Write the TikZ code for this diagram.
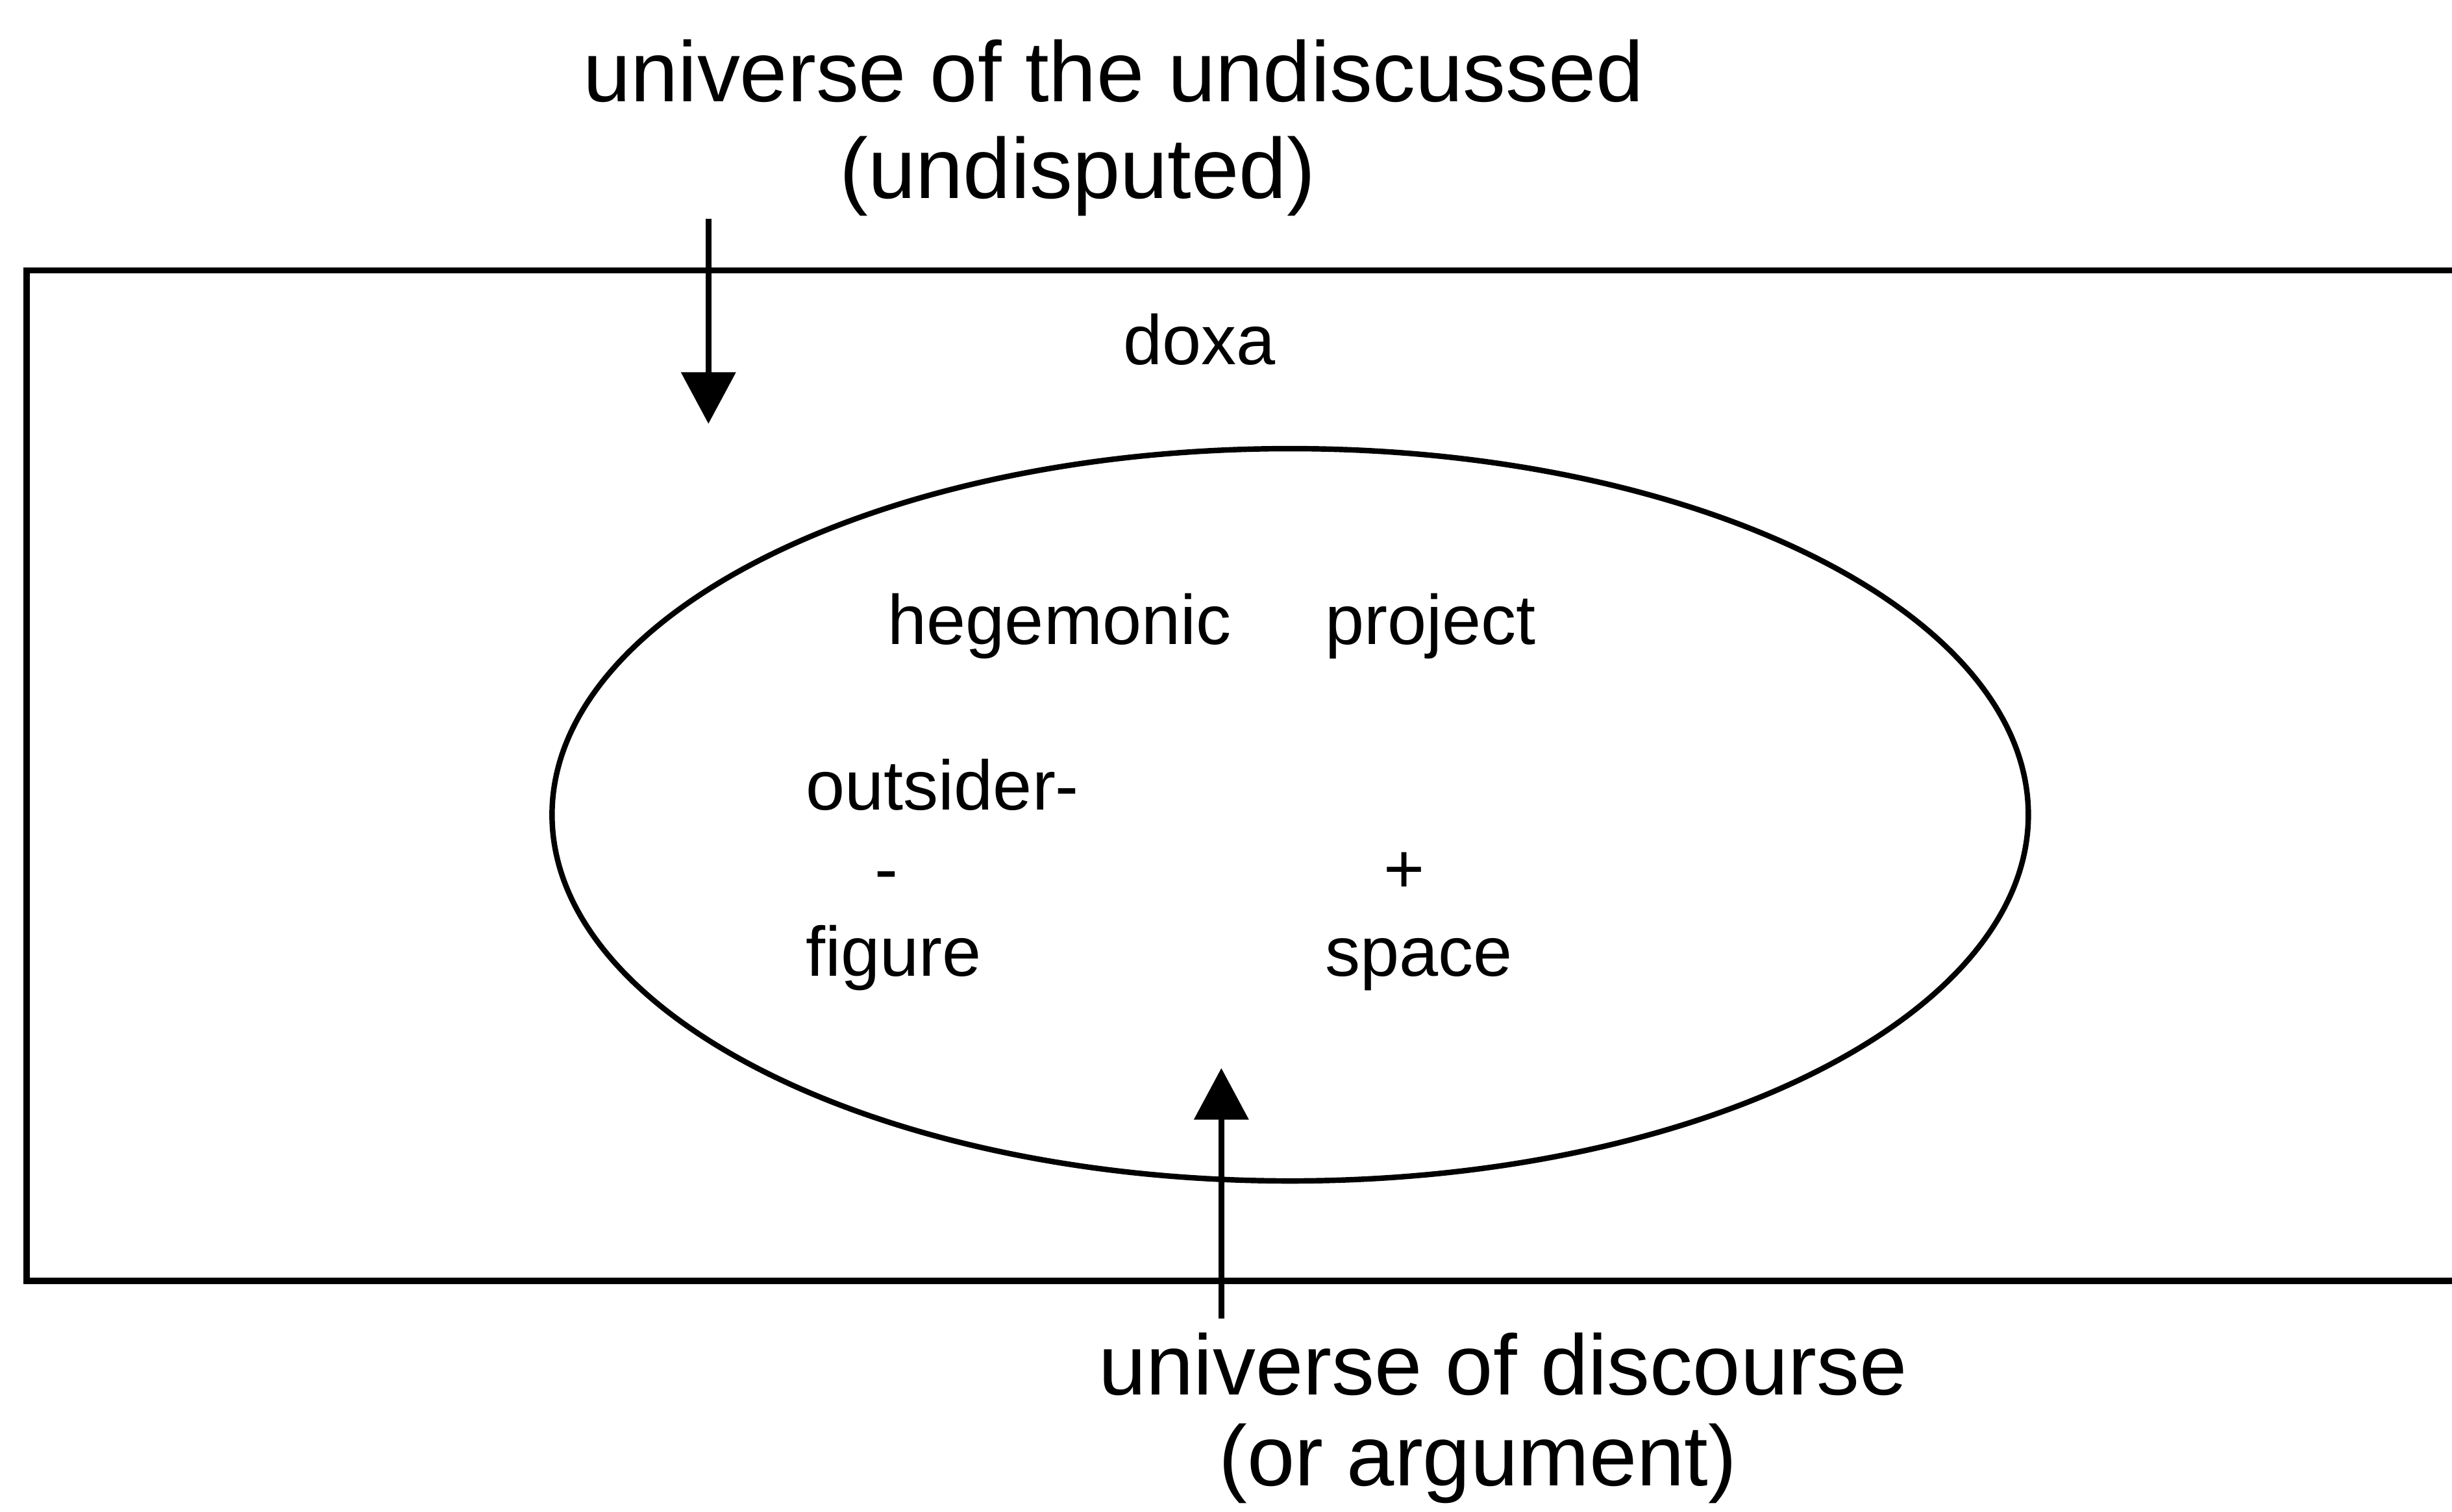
\documentclass[tikz,border=0pt]{standalone}
\usepackage{fontspec}
\setmainfont{Liberation Sans}
\usepackage{xcolor}
\usepackage{tikz}
\usetikzlibrary{arrows.meta,positioning,shapes.geometric}
\tikzset{
  frame/.style={draw=black, line width=1.8pt},
  arena/.style={
    ellipse,
    draw=black,
    line width=1.6pt,
    minimum width=15.16cm,
    minimum height=7.52cm,
    inner sep=0pt
  },
  biglabel/.style={font=\fontsize{25}{29}\selectfont, anchor=base, inner sep=0pt},
  inlabel/.style={font=\fontsize{20.5}{24}\selectfont, anchor=base, inner sep=0pt},
  inlabelleft/.style={inlabel, anchor=base west},
  pointer/.style={line width=1.8pt, draw=black, -{Triangle[length=5.3mm, width=5.5mm]}}
}

\begin{document}
\begin{tikzpicture}[x=1cm,y=1cm]
\clip (0,0) rectangle (25.18,15.52);
\fill[white] (0,0) rectangle (25.18,15.52);

% doxa frame, runs past the right edge
\draw[frame] (0.273,2.368) rectangle (26.0,12.742);
\node[arena] (discourse) at (13.249,7.153) {};

\node[biglabel] (undiscussed) at (11.434,14.476) {universe of the undiscussed};
\node[biglabel] (undisputed) at (11.065,13.481) {(undisputed)};
\node[inlabel] (doxa) at (12.317,11.778) {doxa};

\node[inlabel] (hegemonic) at (10.880,8.904) {hegemonic};
\node[inlabelleft] (project) at (13.602,8.904) {project};
\node[inlabelleft] (outsider) at (8.270,7.201) {outsider-};
\node[inlabel] (minus) at (9.105,6.350) {-};
\node[inlabel] (plus) at (14.421,6.350) {+};
\node[inlabelleft] (figure) at (8.270,5.499) {figure};
\node[inlabelleft] (space) at (13.602,5.499) {space};

\node[biglabel] (universe) at (15.433,1.195) {universe of discourse};
\node[biglabel] (argument) at (15.176,0.264) {(or argument)};

\coordinate (undiscussed tail) at (7.275,13.272);
\coordinate (undiscussed tip) at (7.275,11.168);
\coordinate (discourse tail) at (12.542,1.982);
\coordinate (discourse tip) at (12.542,4.552);

\draw[pointer] (undiscussed tail) -- (undiscussed tip);
\draw[pointer] (discourse tail) -- (discourse tip);

\end{tikzpicture}
\end{document}
